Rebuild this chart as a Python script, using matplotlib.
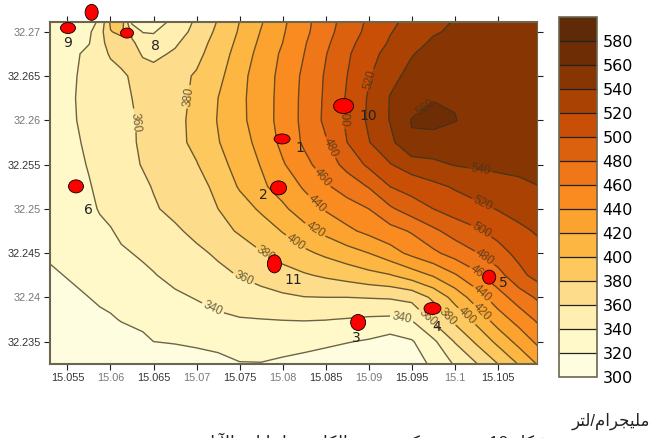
import re
import numpy as np
import matplotlib
matplotlib.use("Agg")
import matplotlib.pyplot as plt
from matplotlib.collections import EllipseCollection
from matplotlib.colors import ListedColormap

# grid nodes, finer near the top-left wells
lon = [15.0525, 15.055, 15.0575, 15.05875, 15.06, 15.06125, 15.0625, 15.06375, 15.065,
       15.0675, 15.07, 15.0725, 15.075, 15.0775, 15.08, 15.0825, 15.085, 15.0875, 15.09,
       15.0925, 15.095, 15.0975, 15.1, 15.1025, 15.105, 15.1075, 15.11]
lat = [32.27125, 32.27, 32.26875, 32.2675, 32.265, 32.2625, 32.26, 32.2575, 32.255,
       32.2525, 32.25, 32.2475, 32.245, 32.2425, 32.24, 32.2375, 32.235, 32.2325]

# chloride mg/l, one row per lat, estimated from the isolines
chloride = [
    [328, 332, 337, 341, 384, 393, 333, 325, 328, 345, 363, 381, 400, 418, 436, 454, 471, 488, 503, 516, 525, 533, 541, 547, 551, 554, 556],
    [328, 332, 337, 351, 379, 385, 355, 339, 339, 349, 367, 384, 402, 421, 438, 455, 473, 490, 505, 519, 528, 538, 543, 548, 552, 555, 557],
    [328, 332, 339, 355, 366, 372, 363, 352, 345, 357, 372, 387, 405, 424, 440, 458, 476, 494, 509, 522, 533, 543, 547, 551, 554, 556, 558],
    [327, 333, 345, 353, 362, 366, 364, 359, 355, 363, 375, 390, 408, 427, 443, 460, 479, 497, 514, 526, 539, 546, 550, 553, 555, 557, 559],
    [327, 336, 345, 349, 353, 357, 362, 365, 368, 374, 382, 395, 413, 431, 445, 464, 482, 500, 518, 535, 545, 550, 553, 555, 557, 558, 559],
    [328, 337, 345, 349, 352, 356, 360, 362, 364, 372, 385, 400, 415, 431, 446, 465, 483, 502, 522, 541, 551, 559, 558, 554, 555, 556, 557],
    [329, 337, 344, 347, 350, 354, 359, 362, 365, 374, 386, 401, 415, 430, 447, 465, 484, 503, 523, 541, 561, 566, 561, 552, 552, 552, 552],
    [330, 335, 343, 347, 350, 354, 358, 363, 366, 374, 385, 399, 412, 426, 445, 463, 478, 500, 519, 535, 558, 552, 548, 547, 547, 547, 547],
    [330, 334, 341, 345, 349, 353, 357, 361, 365, 372, 379, 393, 408, 421, 438, 454, 470, 486, 504, 519, 530, 536, 541, 543, 544, 545, 546],
    [329, 332, 339, 343, 346, 349, 353, 357, 361, 366, 373, 385, 402, 416, 429, 442, 457, 469, 481, 500, 508, 515, 522, 528, 533, 536, 540],
    [326, 332, 337, 341, 344, 348, 351, 355, 358, 365, 373, 380, 391, 403, 416, 431, 442, 451, 460, 477, 490, 500, 509, 515, 521, 527, 533],
    [324, 329, 335, 337, 339, 343, 346, 349, 352, 357, 365, 374, 382, 390, 401, 413, 425, 436, 445, 453, 462, 476, 488, 497, 507, 516, 523],
    [322, 326, 331, 333, 335, 338, 340, 342, 345, 351, 356, 363, 371, 379, 388, 396, 404, 412, 420, 432, 445, 456, 468, 479, 492, 506, 515],
    [316, 321, 326, 329, 331, 333, 335, 337, 339, 345, 350, 355, 361, 367, 372, 378, 383, 388, 394, 399, 410, 422, 438, 455, 473, 494, 510],
    [310, 315, 320, 323, 325, 327, 329, 331, 333, 337, 341, 345, 349, 353, 357, 359.5, 360, 360, 361, 362, 366, 384, 407, 430, 451, 470, 485],
    [303, 306, 313, 316, 318, 321, 323, 325, 326, 329, 333, 337, 339, 339.7, 340.5, 341, 340.5, 339, 337, 336, 341, 364, 385, 406, 430, 448, 466],
    [301, 303, 306, 308, 310, 312, 314, 316, 320, 321, 322, 323, 325, 327, 327, 326, 324, 321, 318, 312, 318, 336, 361, 383, 405, 427, 447],
    [301, 302, 303, 304, 305, 306, 307, 308, 309, 312, 315, 317, 319.5, 319.5, 317, 314, 310, 306, 303, 302, 310, 324, 342, 359, 380, 402, 425],
]
levels = list(range(300, 620, 20))

# wells, ellipse sizes in points
well_lon = [15.05506, 15.05781, 15.06192, 15.08709, 15.07994, 15.07953, 15.05599, 15.07905, 15.08878, 15.09742, 15.10401]
well_lat = [32.27042, 32.27219, 32.26985, 32.26161, 32.25789, 32.25236, 32.25253, 32.24378, 32.23716, 32.23874, 32.24228]
well_w = [10.8, 9.4, 9.4, 14.4, 11.5, 11.5, 10.8, 10.1, 10.8, 12.2, 9.4]
well_h = [7.9, 11.5, 7.2, 10.8, 7.2, 10.1, 9.4, 13, 11.5, 8.6, 10.1]

well_names = ["9", "8", "10", "1", "2", "6", "11", "3", "4", "5"]
name_lon = [15.05506, 15.06517, 15.08994, 15.08203, 15.07773, 15.05738, 15.08122, 15.08855, 15.09785, 15.10564]
name_lat = [32.26872, 32.26839, 32.26049, 32.25687, 32.25157, 32.24988, 32.24198, 32.23543, 32.23667, 32.24164]

# isoline labels
label_lon = [15.07192, 15.0939, 15.06285, 15.07552, 15.0968, 15.06924, 15.07797, 15.09924, 15.08145, 15.10157,
             15.08378, 15.10331, 15.08401, 15.10331, 15.08459, 15.10297, 15.08541, 15.10355, 15.08703, 15.1032,
             15.09017, 15.10331, 15.10297, 15.09669]
label_lat = [32.23881, 32.2378, 32.2597, 32.2422, 32.23769, 32.26263, 32.2448, 32.23791, 32.24615, 32.23802,
             32.24762, 32.23848, 32.25067, 32.24051, 32.25349, 32.24277, 32.25687, 32.24457, 32.26037, 32.24773,
             32.26455, 32.25067, 32.25439, 32.26128]

x_ticks = [15.055, 15.06, 15.065, 15.07, 15.075, 15.08, 15.085, 15.09, 15.095, 15.1, 15.105]
x_tick_labels = ["15.055", "15.06", "15.065", "15.07", "15.075", "15.08", "15.085", "15.09", "15.095", "15.1", "15.105"]
y_ticks = [32.27, 32.265, 32.26, 32.255, 32.25, 32.245, 32.24, 32.235]
y_tick_labels = ["32.27", "32.265", "32.26", "32.255", "32.25", "32.245", "32.24", "32.235"]

unit_text = "مليجرام/لتر"
caption_text = "شكل 10 : توزيع تركيز عنصر الكلوريد لبيانات الآبار"

band_colors = ["#fffde0", "#fff8c8", "#ffefb0", "#fddc8c", "#fdc85e", "#fdb642", "#fca32f", "#f98b21",
               "#ef7619", "#dc610e", "#c84f05", "#a94203", "#883504", "#6f2d06", "#5f2a08"]

# matplotlib does no arabic joining or rtl, so pick presentation forms by hand
FOUR_FORMS = {"ب": 0xFE8F, "ت": 0xFE95, "ج": 0xFE9D, "ش": 0xFEB5, "ص": 0xFEB9, "ع": 0xFEC9,
              "ك": 0xFED9, "ل": 0xFEDD, "م": 0xFEE1, "ن": 0xFEE5, "ي": 0xFEF1}
TWO_FORMS = {"ا": 0xFE8D, "د": 0xFEA9, "ر": 0xFEAD, "ز": 0xFEAF, "و": 0xFEED, "\uFEF5": 0xFEF5}


def shape(text):
    text = text.replace("لآ", "\uFEF5")
    out = []
    for i, c in enumerate(text):
        before = i > 0 and text[i - 1] in FOUR_FORMS
        after = i < len(text) - 1 and (text[i + 1] in FOUR_FORMS or text[i + 1] in TWO_FORMS)
        if c in FOUR_FORMS:
            offset = {(False, False): 0, (True, False): 1, (False, True): 2, (True, True): 3}[(before, after)]
            out.append(chr(FOUR_FORMS[c] + offset))
        elif c in TWO_FORMS:
            out.append(chr(TWO_FORMS[c] + (1 if before else 0)))
        else:
            out.append(c)
    visual = "".join(out)[::-1]
    return re.sub(r"\d+", lambda m: m.group()[::-1], visual)


plt.rcParams["font.family"] = ["Liberation Sans", "DejaVu Sans"]
LINE_COLOR = "#3a3520"
FRAME_COLOR = "#6b664f"

fig = plt.figure(figsize=(6.51, 4.38), dpi=100)
ax = fig.add_axes([50 / 651, 1 - 363.7 / 438, 486.7 / 651, 341.7 / 438])

z = np.array(chloride)
cf = ax.contourf(lon, lat, z, levels=levels, cmap=ListedColormap(band_colors))
cs = ax.contour(lon, lat, z, levels=levels, colors=LINE_COLOR, linewidths=1.0, alpha=0.75)
ax.clabel(cs, fmt="%d", fontsize=8.5, inline=True, inline_spacing=2,
          manual=list(zip(label_lon, label_lat)))

ax.set_xlim(15.05297, 15.10953)
ax.set_ylim(32.2325, 32.2711)

wells = EllipseCollection(well_w, well_h, np.zeros(len(well_w)), units="points",
                          offsets=np.column_stack([well_lon, well_lat]),
                          offset_transform=ax.transData, facecolors="#ff0000",
                          edgecolors="black", linewidths=0.6, zorder=5, clip_on=False)
ax.add_collection(wells)

for name, x, y in zip(well_names, name_lon, name_lat):
    ax.text(x, y, name, fontsize=10, family="DejaVu Sans", color="#222222", ha="center", va="center", zorder=6)

ax.set_xticks(x_ticks)
ax.set_xticklabels(x_tick_labels)
ax.set_yticks(y_ticks)
ax.set_yticklabels(y_tick_labels)
ax.tick_params(axis="both", top=True, right=True, length=4.5, width=0.8, labelsize=7.8, color="#222222")
ax.tick_params(axis="x", pad=2)
ax.tick_params(axis="y", pad=2)
# every other tick label is washed out in the scan
for i, t in enumerate(ax.get_xticklabels()):
    t.set_color("#777777" if i % 2 else "#333333")
for i, t in enumerate(ax.get_yticklabels()):
    t.set_color("#333333" if i % 2 else "#777777")
for name, spine in ax.spines.items():
    spine.set_color(FRAME_COLOR)
    spine.set_linewidth(0.8 if name == "right" else 1.5)

cax = fig.add_axes([559 / 651, 1 - 377 / 438, 38 / 651, 360.3 / 438])
cbar = fig.colorbar(cf, cax=cax, drawedges=True)
cbar.set_ticks(levels[:-1])
cbar.ax.tick_params(length=0, pad=4)
for t in cbar.ax.get_yticklabels():
    t.set_fontsize(11.5)
    t.set_family("DejaVu Sans")
cbar.dividers.set_color("#222222")
cbar.dividers.set_linewidth(0.9)
cbar.outline.set_edgecolor(FRAME_COLOR)
cbar.outline.set_linewidth(1.2)

fig.text(650 / 651, 1 - 421 / 438, shape(unit_text), fontsize=12, ha="right", va="center", color="#222222")
fig.text(550 / 651, 1 - 442 / 438, shape(caption_text), fontsize=12.3, ha="right", va="center", color="#222222")

fig.savefig("out.png", dpi=100)
